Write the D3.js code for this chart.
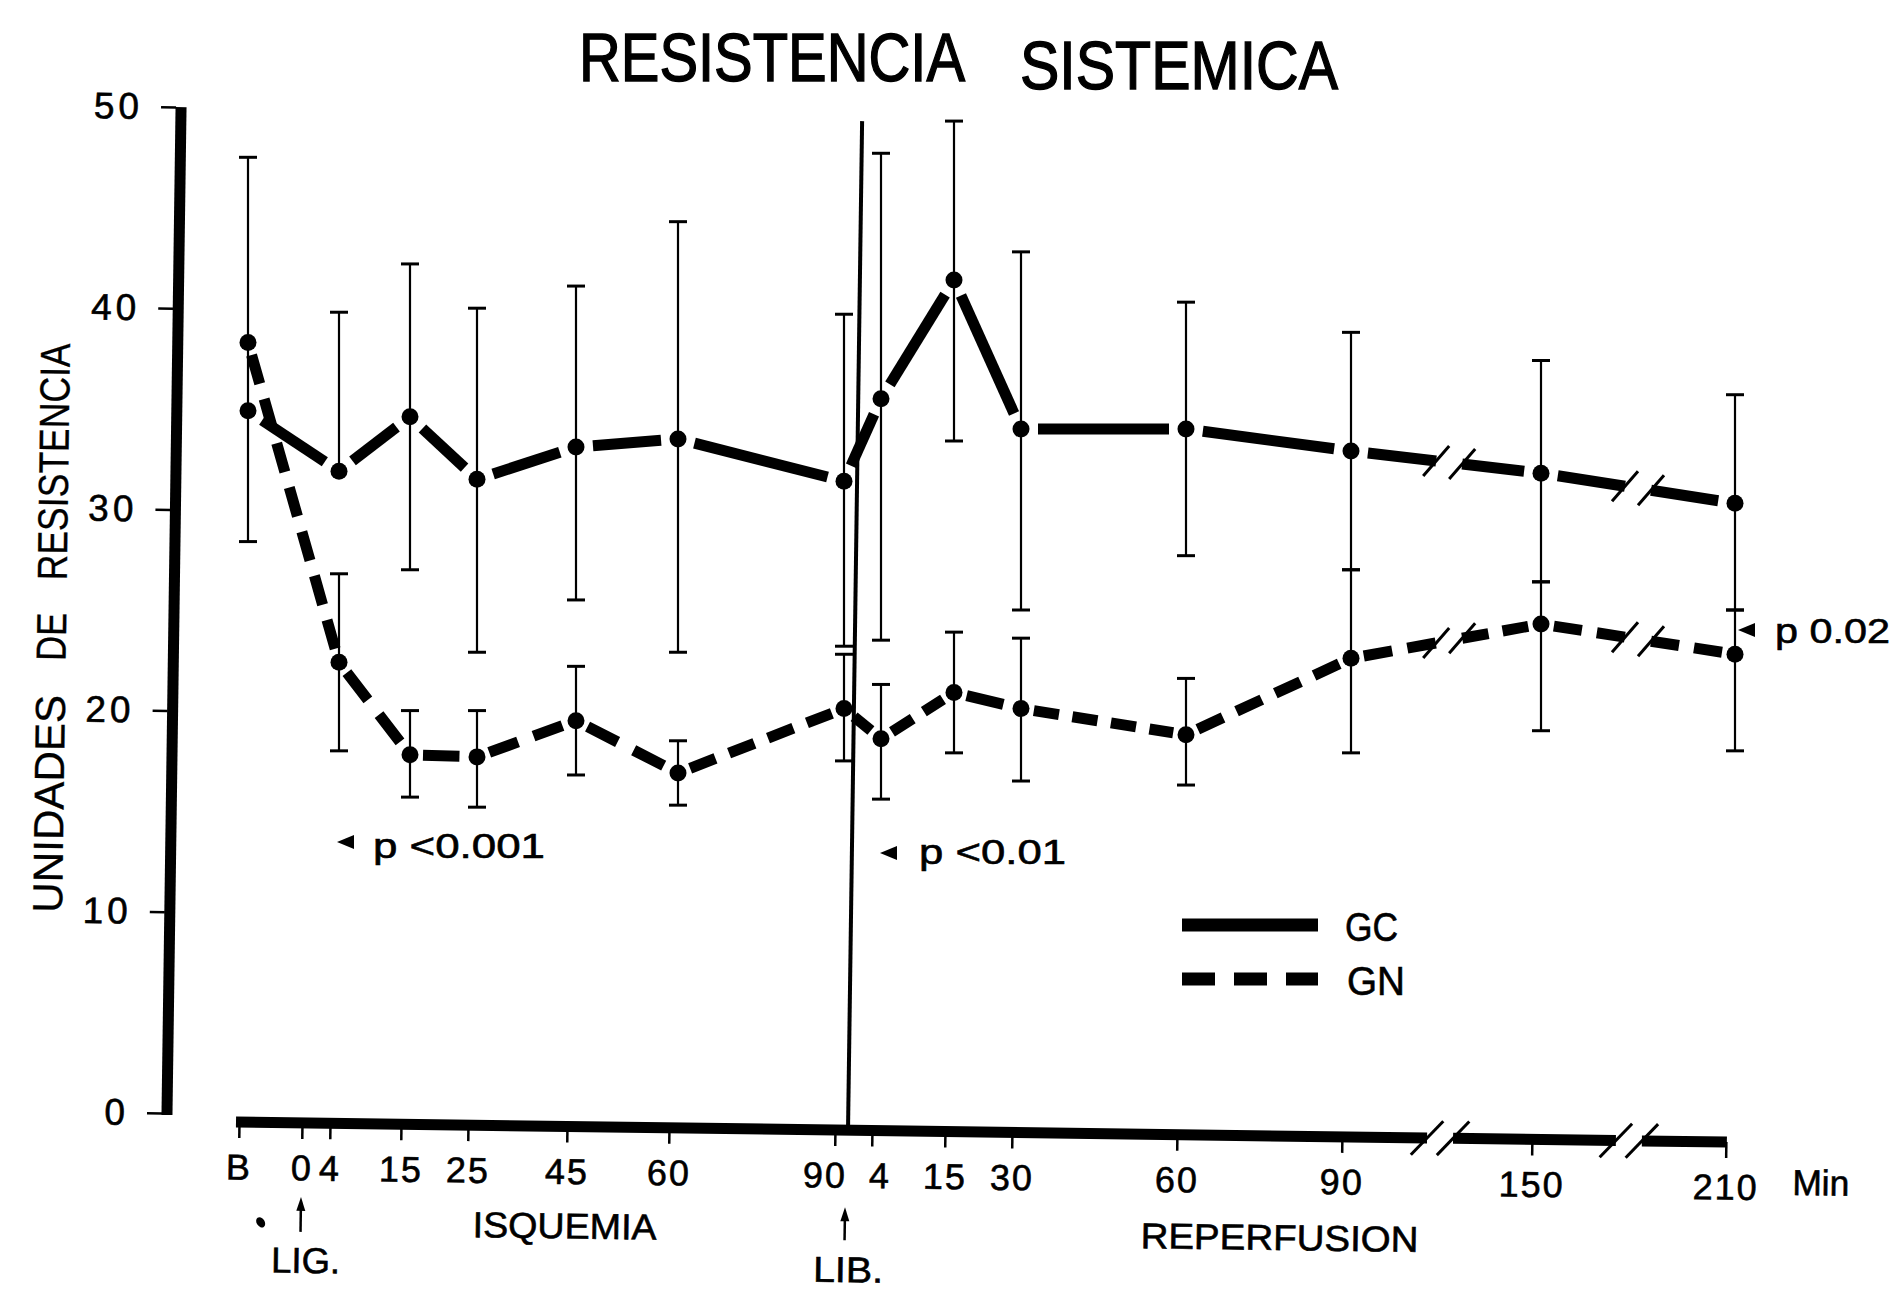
<!DOCTYPE html>
<html><head><meta charset="utf-8">
<script src="https://cdn.jsdelivr.net/npm/d3@7/dist/d3.min.js"></script>
<style>
html,body{margin:0;padding:0;background:#fff;}
svg{display:block;}
text{font-family:"Liberation Sans",Arial,Helvetica,sans-serif;fill:#000;stroke:#000;stroke-width:0.6px;}
</style></head><body>
<svg id="chart" width="1903" height="1290"></svg>
<script>
// ---------------- DATA ----------------
const title = ["RESISTENCIA", "SISTEMICA"];
const yTitle = ["UNIDADES", "DE", "RESISTENCIA"];
// x categories (tick labels) and their time (min since ligation; reperfusion = 90 + min)
const categories = ["B","0","4","15","25","45","60","90","4","15","30","60","90","150","210"];
const timeline   = [-10, 0, 4, 15, 25, 45, 60, 90, 94, 105, 120, 150, 180, 240, 300];
// time of each measured point
const pointTimes = [-10, 4, 15, 25, 45, 60, 90, 94, 105, 120, 150, 180, 240, 300];
// GC (solid)
const gcMean = [34.9, 31.9, 34.6, 31.5, 33.1, 33.5, 31.4, 35.5, 41.4, 34.0, 34.0, 32.9, 31.8, 30.3];
const gcHigh = [47.5, 39.8, 42.2, 40.0, 41.1, 44.3, 39.7, 47.7, 49.3, 42.8, 40.3, 38.8, 37.4, 35.7];
const gcLow  = [28.4, null, 27.0, 22.9, 25.5, 22.9, 23.2, 23.5, 33.4, 25.0, 27.7, 27.0, 26.4, 25.0];
// GN (dashed)
const gnMean = [38.3, 22.4, 17.8, 17.7, 19.5, 16.9, 20.1, 18.6, 20.9, 20.1, 18.8, 22.6, 24.3, 22.8];
const gnHigh = [null, 26.8, 20.0, 20.0, 22.2, 18.5, 22.8, 21.3, 23.9, 23.6, 21.6, 27.0, 26.4, 25.0];
const gnLow  = [null, 18.0, 15.7, 15.2, 16.8, 15.3, 17.5, 15.6, 17.9, 16.5, 16.3, 17.9, 19.0, 18.0];
const yTicks = [0, 10, 20, 30, 40, 50];
const axisBreaks = [211, 270];          // time positions of the "//" breaks
const ligTime = 0, libTime = 91.2;      // LIG. and LIB. markers
const libLineRange = [-0.6, 49.3];      // vertical LIB line extent (units)
const pNotes = ["p <0.001", "p <0.01", "p 0.02"];
const legendItems = ["GC", "GN"];
const phaseLabels = ["ISQUEMIA", "REPERFUSION", "LIG.", "LIB.", "Min"];

// ---------------- SCALES ----------------
const svg = d3.select("#chart");
svg.append("rect").attr("width", 1903).attr("height", 1290).attr("fill", "#fff").attr("stroke", "none");

const x = d3.scaleLinear().domain(timeline)
  .range([248, 311, 339, 410, 477, 576, 678, 844, 881, 954, 1021, 1186, 1351, 1541, 1735]);
const y = d3.scaleLinear().domain([0, 50]).range([1113, 107]);
const FONT = '"Liberation Sans",Arial,Helvetica,sans-serif';

// ---------------- TITLE ----------------
svg.append("text").attr("x", 579).attr("y", 81).attr("font-size", 68).style("stroke-width", "1.4px")
  .attr("textLength", 386).attr("lengthAdjust", "spacingAndGlyphs").text(title[0]);
svg.append("text").attr("x", 1020).attr("y", 89).attr("font-size", 68).style("stroke-width", "1.4px")
  .attr("textLength", 318).attr("lengthAdjust", "spacingAndGlyphs").text(title[1]);

// ---------------- Y AXIS ----------------
const yAxisG = svg.append("g").attr("transform", "rotate(0.8,167,1113)");
yAxisG.append("line").attr("x1", 167).attr("x2", 167).attr("y1", y(50)).attr("y2", y(0) + 2)
  .attr("stroke", "#000").attr("stroke-width", 11);
const yAx = yAxisG.append("g").attr("transform", "translate(162,0)")
  .call(d3.axisLeft(y).tickValues(yTicks).tickSize(15).tickPadding(18).tickFormat(d3.format("d")));
yAx.select(".domain").remove();
yAx.selectAll(".tick line").attr("stroke", "#000").attr("stroke-width", 2.5);
yAx.selectAll(".tick text").attr("font-size", 37).attr("fill", "#000")
  .attr("font-family", FONT).attr("letter-spacing", 4);

// y title
const yt = svg.append("g").attr("transform", "translate(66,628) rotate(-89.2)");
const ytPos = [{c: -176, w: 218}, {c: -9, w: 48}, {c: 166, w: 237}];
yTitle.forEach((w, i) => {
  yt.append("text").attr("x", ytPos[i].c - ytPos[i].w / 2).attr("y", 0).attr("font-size", 42)
    .style("stroke-width", "0.3px")
    .attr("textLength", ytPos[i].w).attr("lengthAdjust", "spacingAndGlyphs").text(w);
});

// ---------------- X AXIS ----------------
const tilt = svg.append("g").attr("transform", "rotate(0.77,236,1122)");
const xAxG = tilt.append("g").attr("transform", "translate(-9,1122)");
const b0 = x(axisBreaks[0]), b1 = x(axisBreaks[1]);
const barSegs = [[x(-10) - 3, b0 - 13], [b0 + 13, b1 - 13], [b1 + 13, x(300) + 1]];
barSegs.forEach(s => {
  xAxG.append("line").attr("x1", s[0]).attr("x2", s[1]).attr("y1", 0).attr("y2", 0)
    .attr("stroke", "#000").attr("stroke-width", 11);
});
[b0, b1].forEach(b => {
  [-13, 13].forEach(o => {
    xAxG.append("line").attr("x1", b + o - 16).attr("y1", 17).attr("x2", b + o + 16).attr("y2", -17)
      .attr("stroke", "#000").attr("stroke-width", 3);
  });
});
const xAx = xAxG.append("g")
  .call(d3.axisBottom(x).tickValues(timeline).tickSize(16).tickPadding(16)
    .tickFormat((d, i) => categories[i]));
xAx.select(".domain").remove();
xAx.selectAll(".tick line").attr("stroke", "#000").attr("stroke-width", 2.5);
xAx.selectAll(".tick text").attr("font-size", 36).attr("fill", "#000").attr("font-family", FONT)
  .attr("letter-spacing", 2)
  .attr("dx", (d, i) => i === 7 ? -10 : (i === 8 ? 8 : 0));

// phase labels
const lab = (t, lx, ly, len) => xAxG.append("text").attr("x", lx).attr("y", ly).attr("font-size", 36)
  .attr("textLength", len).attr("lengthAdjust", "spacingAndGlyphs").text(t);
lab(phaseLabels[0], 483, 112, 184);
lab(phaseLabels[1], 1151, 114, 278);
lab(phaseLabels[2], 282, 150, 69);
lab(phaseLabels[3], 824, 152, 70);
lab(phaseLabels[4], 1802, 52, 57);
// arrows
[[x(ligTime), 109, 74], [x(libTime), 110, 77]].forEach(a => {
  xAxG.append("line").attr("x1", a[0]).attr("x2", a[0]).attr("y1", a[1]).attr("y2", a[2] + 8)
    .attr("stroke", "#000").attr("stroke-width", 2.5);
  xAxG.append("path").attr("d", `M${a[0]},${a[2]} L${a[0] - 4.5},${a[2] + 14} L${a[0] + 4.5},${a[2] + 14} Z`)
    .attr("fill", "#000");
});
xAxG.append("ellipse").attr("cx", 271).attr("cy", 100).attr("rx", 4).attr("ry", 5.5)
  .attr("transform", "rotate(-35,271,100)").attr("fill", "#000");

// LIB vertical line
const lx = x(libTime), lyc = (y(libLineRange[0]) + y(libLineRange[1])) / 2;
svg.append("line").attr("x1", lx).attr("x2", lx).attr("y1", y(libLineRange[1])).attr("y2", y(libLineRange[0]))
  .attr("stroke", "#000").attr("stroke-width", 4).attr("transform", `rotate(0.8,${lx},${lyc})`);

// ---------------- SERIES ----------------
const plot = svg.append("g");
function errorBars(means, hi, lo) {
  pointTimes.forEach((t, i) => {
    const px = x(t);
    const top = hi[i] == null ? means[i] : hi[i];
    const bot = lo[i] == null ? means[i] : lo[i];
    if (top === bot) return;
    plot.append("line").attr("x1", px).attr("x2", px).attr("y1", y(top)).attr("y2", y(bot))
      .attr("stroke", "#000").attr("stroke-width", 2.2);
    [hi[i], lo[i]].forEach(v => {
      if (v == null) return;
      plot.append("line").attr("x1", px - 9).attr("x2", px + 9).attr("y1", y(v)).attr("y2", y(v))
        .attr("stroke", "#000").attr("stroke-width", 3);
    });
  });
}
function seriesLine(means, dashed, gap) {
  for (let i = 0; i < pointTimes.length - 1; i++) {
    const t0 = pointTimes[i], t1 = pointTimes[i + 1];
    const p0 = [x(t0), y(means[i])], p1 = [x(t1), y(means[i + 1])];
    const dx = p1[0] - p0[0], dy = p1[1] - p0[1], L = Math.hypot(dx, dy);
    const ux = dx / L, uy = dy / L;
    const start = [p0[0] + ux * gap, p0[1] + uy * gap], end = [p1[0] - ux * gap, p1[1] - uy * gap];
    const parts = [];
    const brk = axisBreaks.find(b => b > t0 && b < t1);
    if (brk !== undefined) {
      const bx = x(brk);
      const yAt = xx => p0[1] + (xx - p0[0]) / dx * dy;
      parts.push([start, [bx - 13, yAt(bx - 13)]]);
      parts.push([[bx + 13, yAt(bx + 13)], end]);
      [bx - 13, bx + 13].forEach(sx => {
        const sy = yAt(sx);
        plot.append("line").attr("x1", sx - 13).attr("y1", sy + 15).attr("x2", sx + 13).attr("y2", sy - 15)
          .attr("stroke", "#000").attr("stroke-width", 3);
      });
    } else parts.push([start, end]);
    parts.forEach(pp => {
      const ln = plot.append("line").attr("x1", pp[0][0]).attr("y1", pp[0][1])
        .attr("x2", pp[1][0]).attr("y2", pp[1][1]).attr("stroke", "#000").attr("stroke-width", 11);
      if (dashed) {
        const len = Math.hypot(pp[1][0] - pp[0][0], pp[1][1] - pp[0][1]);
        const d = 28, g = 15;
        const n = Math.max(1, Math.round((len + g) / (d + g)));
        const unit = (len + g) / n;
        ln.attr("stroke-dasharray", `${unit * d / (d + g)} ${unit * g / (d + g)}`);
      }
    });
  }
  pointTimes.forEach((t, i) => {
    plot.append("circle").attr("cx", x(t)).attr("cy", y(means[i])).attr("r", 8.5).attr("fill", "#000");
  });
}
errorBars(gcMean, gcHigh, gcLow);
errorBars(gnMean, gnHigh, gnLow);
seriesLine(gcMean, false, 17);
seriesLine(gnMean, true, 13);

// ---------------- ANNOTATIONS ----------------
const noteGeom = [
  {tip: [337, 842], tx: 373, ty: 858, len: 172},
  {tip: [880, 853], tx: 919, ty: 864, len: 147},
  {tip: [1738, 630], tx: 1775, ty: 643, len: 115}
];
pNotes.forEach((n, i) => {
  const g = noteGeom[i];
  svg.append("path").attr("d", `M${g.tip[0]},${g.tip[1]} L${g.tip[0] + 17},${g.tip[1] - 7} L${g.tip[0] + 17},${g.tip[1] + 7} Z`)
    .attr("fill", "#000");
  svg.append("text").attr("x", g.tx).attr("y", g.ty).attr("font-size", 35)
    .attr("textLength", g.len).attr("lengthAdjust", "spacingAndGlyphs").text(n);
});

// ---------------- LEGEND ----------------
svg.append("line").attr("x1", 1182).attr("x2", 1318).attr("y1", 925).attr("y2", 925)
  .attr("stroke", "#000").attr("stroke-width", 13);
svg.append("line").attr("x1", 1182).attr("x2", 1318).attr("y1", 979).attr("y2", 979)
  .attr("stroke", "#000").attr("stroke-width", 13).attr("stroke-dasharray", "33 19");
svg.append("text").attr("x", 1345).attr("y", 941).attr("font-size", 40)
  .attr("textLength", 53).attr("lengthAdjust", "spacingAndGlyphs").text(legendItems[0]);
svg.append("text").attr("x", 1347).attr("y", 995).attr("font-size", 40)
  .attr("textLength", 58).attr("lengthAdjust", "spacingAndGlyphs").text(legendItems[1]);
</script>
</body></html>
